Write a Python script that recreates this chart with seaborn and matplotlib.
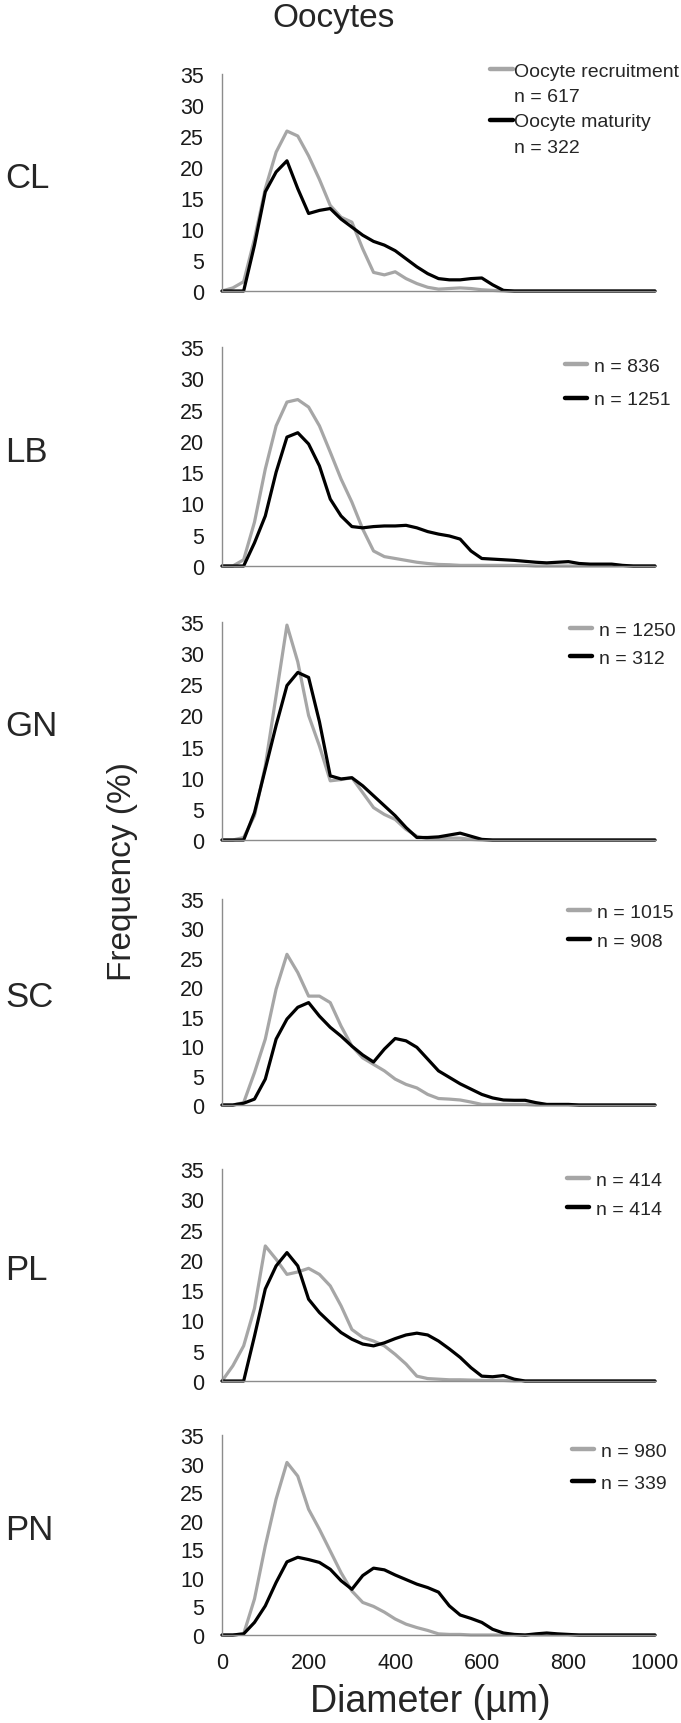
import numpy as np
import pandas as pd
import matplotlib
matplotlib.use("Agg")
import matplotlib.pyplot as plt
from matplotlib.lines import Line2D
import seaborn as sns

# diameter grid (um), one value every 25 um
diameter = list(range(0, 1001, 25))

sites = ["CL", "LB", "GN", "SC", "PL", "PN"]

# frequency (%), recruitment = grey, maturity = black
cl_recruit = [0, 0.5, 1.5, 8.4, 16.5, 22.4, 25.8, 25, 21.8, 18, 13.8, 11.9, 11.1, 6.8, 3, 2.6, 3.1,
              2, 1.2, 0.6, 0.3, 0.4, 0.5, 0.4, 0.2, 0.1, 0] + [0] * 14
cl_mature = [0, 0, 0, 7.4, 16, 19.2, 21, 16.5, 12.5, 13, 13.3, 11.6, 10.3, 9, 8, 7.4, 6.5,
             5.2, 3.9, 2.8, 2, 1.8, 1.8, 2, 2.1, 1, 0.1] + [0] * 14

lb_recruit = [0, 0, 1, 7, 15.5, 22.4, 26.2, 26.6, 25.4, 22.4, 18.2, 13.9, 10.2, 5.9, 2.4, 1.5, 1.2,
              0.9, 0.6, 0.4, 0.25, 0.2, 0.1, 0.1, 0.1, 0.1, 0.1, 0.1, 0.1] + [0] * 12
lb_mature = [0, 0, 0, 3.7, 8, 15, 20.6, 21.3, 19.5, 16, 10.7, 8, 6.3, 6.1, 6.3, 6.4, 6.4, 6.5, 6.1,
             5.5, 5.1, 4.8, 4.3, 2.4, 1.2, 1.1, 1.0, 0.9, 0.75, 0.6, 0.5, 0.6, 0.7, 0.4, 0.3, 0.3,
             0.3, 0.1, 0, 0, 0]

gn_recruit = [0, 0, 0.4, 3.9, 11.9, 23.2, 34.5, 28.6, 20, 15.1, 9.5, 9.7, 10, 7.6, 5.2, 4.1, 3.3,
              1.7, 0.6, 0.2, 0.2, 0.3, 0.3, 0.1] + [0] * 17
gn_mature = [0, 0, 0, 4.4, 11.4, 18.4, 24.8, 26.9, 26.1, 19, 10.3, 9.8, 10, 8.7, 7.1, 5.5, 3.9, 2,
             0.4, 0.4, 0.5, 0.8, 1.1, 0.6, 0.1] + [0] * 16

sc_recruit = [0, 0, 0.4, 5.5, 11.2, 19.7, 25.6, 22.5, 18.5, 18.5, 17.4, 13.4, 10, 8, 6.9, 5.8, 4.4,
              3.5, 2.9, 1.8, 1.1, 1, 0.85, 0.5, 0.1, 0.1, 0.1, 0.1, 0.1] + [0] * 12
sc_mature = [0, 0, 0.3, 1, 4.4, 11.2, 14.6, 16.6, 17.4, 15.1, 13.2, 11.7, 10, 8.5, 7.3, 9.5, 11.3,
             10.9, 9.8, 7.8, 5.8, 4.7, 3.6, 2.7, 1.8, 1.2, 0.85, 0.8, 0.8, 0.4, 0.1, 0.1, 0.1] + [0] * 8

pl_recruit = [0, 2.5, 5.8, 12, 22.3, 20.1, 17.6, 18, 18.6, 17.6, 15.7, 12.4, 8.5, 7.2, 6.6, 5.8, 4.4,
              2.8, 0.8, 0.4, 0.3, 0.2, 0.2, 0.15, 0.1, 0.1, 0.1] + [0] * 14
pl_mature = [0, 0, 0, 7.4, 15.2, 19, 21.2, 19, 13.5, 11.3, 9.6, 8, 6.9, 6.1, 5.8, 6.3, 7, 7.6, 7.9,
             7.6, 6.6, 5.3, 3.9, 2.2, 0.8, 0.7, 0.9, 0.3, 0] + [0] * 12

pn_recruit = [0, 0, 0.2, 6.3, 15.6, 23.8, 30.2, 27.8, 22, 18.5, 14.7, 10.9, 7.7, 5.7, 5, 4, 2.8, 1.9,
              1.3, 0.8, 0.2, 0.1, 0.1] + [0] * 18
pn_mature = [0, 0, 0.2, 2.2, 5.1, 9.2, 12.8, 13.6, 13.2, 12.7, 11.5, 9.5, 8, 10.4, 11.7, 11.4, 10.5,
             9.7, 8.9, 8.3, 7.5, 5.1, 3.5, 2.9, 2.2, 1, 0.35, 0.1, 0, 0.2, 0.35, 0.2, 0.1] + [0] * 8

recruit = [cl_recruit, lb_recruit, gn_recruit, sc_recruit, pl_recruit, pn_recruit]
mature = [cl_mature, lb_mature, gn_mature, sc_mature, pl_mature, pn_mature]

n_recruit = [617, 836, 1250, 1015, 414, 980]
n_mature = [322, 1251, 312, 908, 414, 339]

yticks = [0, 5, 10, 15, 20, 25, 30, 35]
xticks = [0, 200, 400, 600, 800, 1000]

#layout in pixels of the original (top, bottom of each panel) + legend anchors/spacing
W, H = 681, 1724
panel_px = [(75, 292), (348, 567), (623, 841), (900, 1106), (1170, 1382), (1436, 1636)]
x_left, x_right = 222, 655
leg_anchor = [(0.62, 1.055), (0.792, 0.954), (0.804, 1.005), (0.799, 0.981), (0.797, 0.991), (0.808, 0.965)]
leg_spacing = [0.4, 0.83, 0.57, 0.62, 0.62, 0.77]

sns.set_style("white")
plt.rcParams["font.family"] = ["Liberation Sans", "DejaVu Sans"]

GREY = "#a6a6a6"
palette = {"recruitment": GREY, "maturity": "black"}

fig = plt.figure(figsize=(W / 100, H / 100), dpi=100)

for i, site in enumerate(sites):
    top, bottom = panel_px[i]
    ax = fig.add_axes([x_left / W, 1 - bottom / H, (x_right - x_left) / W, (bottom - top) / H])

    df = pd.DataFrame({
        "diameter": diameter * 2,
        "frequency": recruit[i] + mature[i],
        "stage": ["recruitment"] * len(diameter) + ["maturity"] * len(diameter),
    })
    sns.lineplot(data=df, x="diameter", y="frequency", hue="stage", palette=palette,
                 linewidth=2.3, legend=False, ax=ax)
    for ln in ax.get_lines():
        ln.set_solid_joinstyle("round")
        ln.set_solid_capstyle("round")
        ln.set_clip_on(False)

    ax.set_xlim(0, 1000)
    ax.set_ylim(0, 35)
    ax.set_yticks(yticks)
    ax.set_xticks(xticks)
    ax.set_xlabel("")
    ax.set_ylabel("")
    ax.tick_params(axis="y", length=0, pad=13, labelsize=15.5, labelcolor="#1a1a1a")
    ax.tick_params(axis="x", length=0, pad=12, labelsize=15.5, labelcolor="#1a1a1a")
    if i < len(sites) - 1:
        ax.set_xticklabels([])
    for s in ["top", "right"]:
        ax.spines[s].set_visible(False)
    for s in ["left", "bottom"]:
        ax.spines[s].set_color("#8c8c8c")
        ax.spines[s].set_linewidth(1.0)
    ax.patch.set_alpha(0)

    h_r = Line2D([], [], color=GREY, lw=3.2)
    h_m = Line2D([], [], color="black", lw=3.2)
    if i == 0:
        blank = Line2D([], [], color="none")
        handles = [h_r, blank, h_m, blank]
        labels = ["Oocyte recruitment", f"n = {n_recruit[i]}", "Oocyte maturity", f"n = {n_mature[i]}"]
        pad = 0.05
    else:
        handles = [h_r, h_m]
        labels = [f"n = {n_recruit[i]}", f"n = {n_mature[i]}"]
        pad = 0.35
    ax.legend(handles, labels, loc="upper left", bbox_to_anchor=leg_anchor[i], frameon=False,
              fontsize=14, handlelength=1.15, handletextpad=pad, borderaxespad=0, borderpad=0,
              labelspacing=leg_spacing[i])

    # site label at the left
    yc = (top + bottom) / 2 - 5
    fig.text(5 / W, 1 - yc / H, site, ha="left", va="center", fontsize=25)

fig.text(334 / W, 1 - 19 / H, "Oocytes", ha="center", va="center", fontsize=24)
fig.text(123 / W, 1 - 872 / H, "Frequency (%)", rotation=90, ha="center", va="center", fontsize=24)
fig.text(430 / W, 1 - 1702 / H, "Diameter (µm)", ha="center", va="center", fontsize=27)

fig.savefig("out.png", dpi=100)
